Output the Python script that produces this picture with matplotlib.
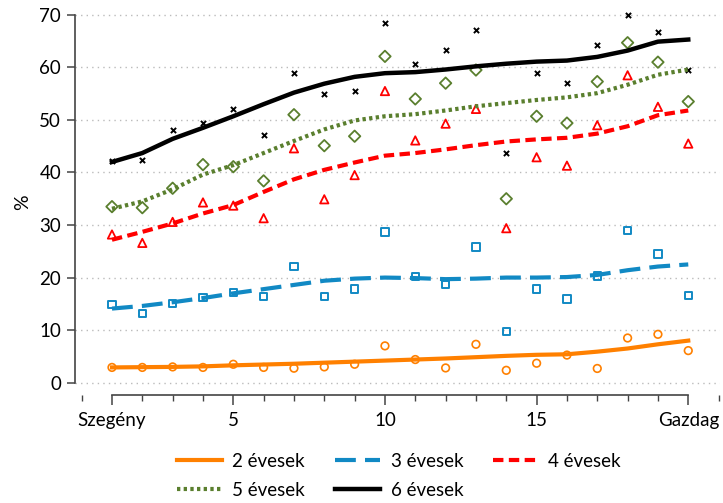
import matplotlib.pyplot as plt
from matplotlib.ticker import MultipleLocator

plt.rcParams['font.family'] = ['Lato', 'DejaVu Sans']

x = list(range(1, 21))

# pont-becslések (jelölők)
p2 = [2.9, 2.9, 3.0, 2.9, 3.5, 2.9, 2.75, 3.0, 3.5, 7.0, 4.4, 2.8, 7.3, 2.35, 3.7, 5.25, 2.7, 8.5, 9.2, 6.1]
p3 = [14.9, 13.2, 15.1, 16.2, 17.1, 16.4, 22.1, 16.4, 17.8, 28.7, 20.2, 18.7, 25.8, 9.75, 17.8, 15.9, 20.3, 28.9, 24.5, 16.6]
p4 = [28.2, 26.6, 30.6, 34.3, 33.7, 31.3, 44.6, 34.9, 39.5, 55.5, 46.1, 49.3, 52.1, 29.4, 42.9, 41.3, 49.0, 58.5, 52.5, 45.5]
p5 = [33.5, 33.3, 37.0, 41.5, 41.1, 38.4, 51.0, 45.1, 46.9, 62.1, 54.0, 57.0, 59.5, 35.0, 50.7, 49.4, 57.3, 64.7, 61.0, 53.5]
p6 = [42.1, 42.4, 48.0, 49.5, 52.0, 47.2, 59.0, 54.9, 55.5, 68.5, 60.7, 63.3, 67.2, 43.7, 59.0, 57.0, 64.3, 70.0, 66.8, 59.6]

# simított görbék
s2 = [2.9, 2.95, 3.0, 3.1, 3.3, 3.45, 3.6, 3.8, 4.0, 4.2, 4.4, 4.6, 4.85, 5.1, 5.3, 5.4, 5.9, 6.5, 7.3, 8.0]
s3 = [14.1, 14.6, 15.3, 16.1, 17.0, 17.8, 18.6, 19.4, 19.8, 20.0, 19.9, 19.7, 19.8, 20.0, 20.0, 20.1, 20.5, 21.4, 22.1, 22.5]
s4 = [27.2, 28.7, 30.3, 32.2, 33.8, 36.3, 38.7, 40.5, 41.9, 43.2, 43.7, 44.4, 45.2, 45.9, 46.3, 46.6, 47.4, 48.8, 50.9, 51.8]
s5 = [33.1, 34.5, 36.8, 39.6, 41.4, 43.7, 46.0, 48.2, 49.9, 50.7, 51.1, 51.8, 52.6, 53.2, 53.8, 54.3, 55.1, 56.7, 58.6, 59.6]
s6 = [42.0, 43.7, 46.4, 48.5, 50.7, 53.0, 55.2, 56.9, 58.2, 58.9, 59.1, 59.6, 60.2, 60.7, 61.1, 61.3, 62.0, 63.2, 64.9, 65.3]

labels = ['2 évesek', '3 évesek', '4 évesek', '5 évesek', '6 évesek']
colors = ['#FF8000', '#1189C4', '#FF0000', '#5A7F2E', '#000000']
tick_pos = [1, 5, 10, 15, 20]
tick_lab = ['Szegény', '5', '10', '15', 'Gazdag']

fig = plt.figure(figsize=(7.23, 5.03), dpi=100)
ax = fig.add_axes([0.1037, 0.2147, 0.8923, 0.7683])

# jelölők
ax.scatter(x, p2, marker='o', s=30, facecolors='none', edgecolors=colors[0], linewidths=1.2, zorder=3)
ax.scatter(x, p3, marker='s', s=28, facecolors='none', edgecolors=colors[1], linewidths=1.4, zorder=3)
ax.scatter(x, p4, marker='^', s=36, facecolors='none', edgecolors=colors[2], linewidths=1.3, zorder=3)
ax.scatter(x, p5, marker='D', s=34, facecolors='none', edgecolors=colors[3], linewidths=1.3, zorder=3)
ax.scatter(x, p6, marker='x', s=14, color=colors[4], linewidths=1.4, zorder=3)

# görbék
h2, = ax.plot(x, s2, color=colors[0], lw=3, ls='-', label=labels[0], zorder=4)
h3, = ax.plot(x, s3, color=colors[1], lw=3, ls=(0, (5, 2.2)), label=labels[1], zorder=4)
h4, = ax.plot(x, s4, color=colors[2], lw=3, ls=(0, (2.5, 1.3)), label=labels[2], zorder=4)
h5, = ax.plot(x, s5, color=colors[3], lw=3, ls=(0, (0.8, 0.8)), label=labels[3], zorder=4)
h6, = ax.plot(x, s6, color=colors[4], lw=3.2, ls='-', label=labels[4], zorder=4)

ax.set_xlim(-0.22, 21.05)
ax.set_ylim(-2.35, 71.2)
ax.set_yticks(range(0, 71, 10))
ax.set_xticks(tick_pos)
ax.set_xticklabels(tick_lab)
ax.xaxis.set_minor_locator(MultipleLocator(1))
ax.tick_params(axis='both', labelsize=13.5, colors='black')
ax.tick_params(axis='x', which='major', length=7, width=1.1, color='#444444', pad=5)
ax.tick_params(axis='x', which='minor', length=4, width=1.0, color='#444444')
ax.tick_params(axis='y', length=6, width=1.1, color='#444444', pad=4)

ax.grid(axis='y', color='#BBBBBB', ls=(0, (1, 3)), lw=1)
ax.set_axisbelow(True)
for side in ['top', 'right']:
    ax.spines[side].set_visible(False)
ax.spines['left'].set_bounds(0, 70)
ax.spines['bottom'].set_bounds(1, 20)
ax.spines['left'].set_color('#444444')
ax.spines['bottom'].set_color('#444444')
ax.spines['left'].set_linewidth(1.2)
ax.spines['bottom'].set_linewidth(1.2)

ax.set_ylabel('%', fontsize=14, labelpad=6)

# sorfolytonos sorrend a jelmagyarázatban
handles = [h2, h5, h3, h6, h4]
fig.legend(handles, [h.get_label() for h in handles], loc='lower center',
           bbox_to_anchor=(0.552, -0.025), ncol=3, frameon=False,
           fontsize=13.5, handlelength=2.4, columnspacing=1.6, handletextpad=0.55,
           labelspacing=0.65)

fig.savefig('out.png', dpi=100)
